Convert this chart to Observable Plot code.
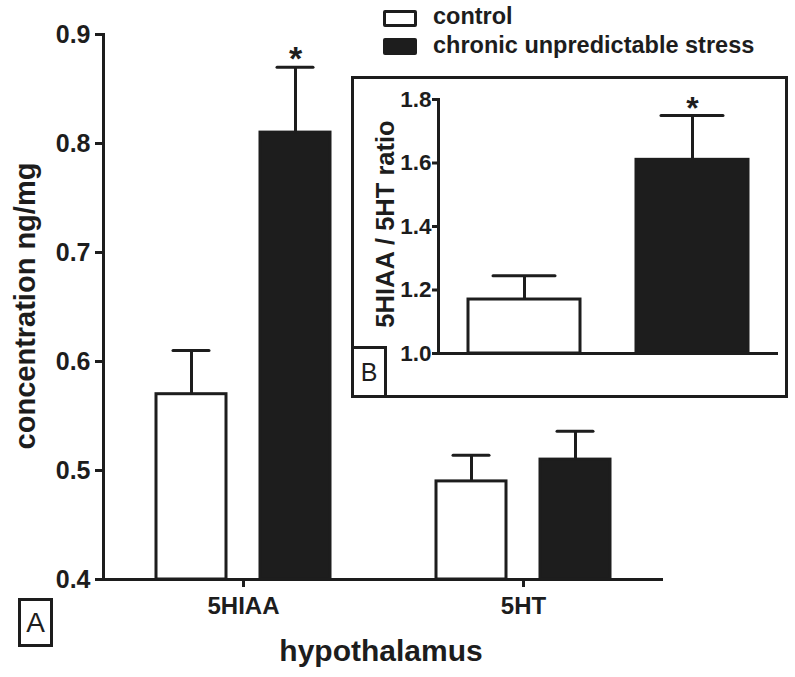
<!DOCTYPE html>
<html>
<head>
<meta charset="utf-8">
<script src="https://cdn.jsdelivr.net/npm/d3@7"></script>
<script src="https://cdn.jsdelivr.net/npm/@observablehq/plot@0.6"></script>
<style>
  html, body { margin: 0; padding: 0; background: #fff; }
  body { width: 795px; height: 677px; position: relative; overflow: hidden;
         font-family: "Liberation Sans", Arial, sans-serif; color: #1d1d1d; }
  .abs { position: absolute; }
  .bold { font-weight: bold; }
  svg { overflow: visible; }
</style>
</head>
<body>
<div id="main" class="abs" style="left:0;top:0;"></div>
<div id="inset" class="abs" style="left:352px;top:77px;"></div>
<div class="abs" style="left:351px;top:76px;width:437px;height:322px;border:3px solid #1d1d1d;box-sizing:border-box;"></div>
<div class="abs" style="left:351px;top:346px;width:36px;height:52px;border:3px solid #1d1d1d;box-sizing:border-box;font-size:25px;line-height:46px;text-align:center;">B</div>
<div class="abs" style="left:18px;top:598px;width:35px;height:49px;border:3px solid #1d1d1d;box-sizing:border-box;font-size:28px;line-height:43px;text-align:center;">A</div>

<!-- legend -->
<div class="abs" style="left:383px;top:10px;width:34px;height:17px;border:3px solid #1d1d1d;box-sizing:border-box;border-radius:2px;"></div>
<div class="abs" style="left:383px;top:38px;width:34px;height:17px;background:#1d1d1d;border-radius:2px;"></div>
<div id="legText1" class="abs bold" style="left:433px;top:3px;font-size:23.5px;line-height:27px;"></div>
<div id="legText2" class="abs bold" style="left:433px;top:32px;font-size:23.5px;line-height:27px;"></div>

<!-- axis titles -->
<div class="abs bold" style="left:25px;top:306px;font-size:29px;white-space:nowrap;transform:translate(-50%,-50%) rotate(-90deg);">concentration ng/mg</div>
<div class="abs bold" style="left:385px;top:224px;font-size:25.5px;white-space:nowrap;transform:translate(-50%,-50%) rotate(-90deg);">5HIAA / 5HT ratio</div>
<div class="abs bold" style="left:381px;top:651px;font-size:30px;white-space:nowrap;transform:translate(-50%,-50%);">hypothalamus</div>

<script>
// ---- data (panel A) ----
const regionOrder = ["5HIAA", "5HT"];
const groupOrder = ["control", "chronic unpredictable stress"];
const regions = ["5HIAA", "5HIAA", "5HT", "5HT"];
const groups = ["control", "chronic unpredictable stress", "control", "chronic unpredictable stress"];
const means = [0.57, 0.81, 0.49, 0.51];
const sems = [0.04, 0.06, 0.024, 0.026];
const significant = [false, true, false, false];
const yTicksA = [0.4, 0.5, 0.6, 0.7, 0.8, 0.9];

// ---- data (panel B) ----
const ratioGroups = ["control", "chronic unpredictable stress"];
const ratioMeans = [1.17, 1.61];
const ratioSems = [0.075, 0.14];
const ratioSignificant = [false, true];
const yTicksB = [1.0, 1.2, 1.4, 1.6, 1.8];

const ink = "#1d1d1d";
const font = "'Liberation Sans', Arial, sans-serif";

document.getElementById("legText1").textContent = groupOrder[0];
document.getElementById("legText2").textContent = groupOrder[1];

const dataA = regions.map((r, i) => ({region: r, group: groups[i], mean: means[i], top: means[i] + sems[i], sig: significant[i]}));
const dataB = ratioGroups.map((g, i) => ({group: g, mean: ratioMeans[i], top: ratioMeans[i] + ratioSems[i], sig: ratioSignificant[i]}));

const colorScale = {domain: groupOrder, range: ["#ffffff", ink]};

const plotA = Plot.plot({
  width: 795, height: 677,
  marginLeft: 102, marginRight: 132, marginTop: 34, marginBottom: 98,
  style: {fontFamily: font, fontWeight: "bold", color: ink, background: "transparent"},
  fx: {domain: regionOrder, padding: 0, label: null},
  x: {domain: groupOrder, paddingInner: 0.33, paddingOuter: 0.507, axis: null},
  y: {domain: [yTicksA[0], yTicksA[yTicksA.length - 1]], axis: null},
  color: colorScale,
  marks: [
    Plot.barY(dataA, {fx: "region", x: "group", y1: () => yTicksA[0], y2: "mean", fill: "group", stroke: ink, strokeWidth: 3}),
    Plot.ruleX(dataA, {fx: "region", x: "group", y1: "mean", y2: "top", stroke: ink, strokeWidth: 3}),
    Plot.tickY(dataA, {fx: "region", x: "group", y: "top", stroke: ink, strokeWidth: 3, insetLeft: 17, insetRight: 17, strokeLinecap: "round"}),
    Plot.text(dataA.filter(d => d.sig), {fx: "region", x: "group", y: "top", text: () => "*", fontSize: 34, dy: -8, fill: ink}),
    Plot.ruleY([yTicksA[0]], {stroke: ink, strokeWidth: 3}),
    Plot.frame({anchor: "left", facetAnchor: "left", stroke: ink, strokeWidth: 3}),
    Plot.axisY({ticks: yTicksA, tickFormat: d => d.toFixed(1), tickSize: 8, tickPadding: 5, fontSize: 25, label: null, strokeWidth: 3, stroke: ink, fill: ink}),
    Plot.axisFx({anchor: "bottom", tickSize: 8, tickPadding: 9, fontSize: 24, label: null, strokeWidth: 3, stroke: ink, fill: ink})
  ]
});
document.getElementById("main").appendChild(plotA);

const plotB = Plot.plot({
  width: 435, height: 320,
  marginLeft: 86, marginRight: 9, marginTop: 22, marginBottom: 44,
  style: {fontFamily: font, fontWeight: "bold", color: ink, background: "transparent"},
  x: {domain: ratioGroups, paddingInner: 0.335, paddingOuter: 0.176, axis: null},
  y: {domain: [yTicksB[0], yTicksB[yTicksB.length - 1]], axis: null},
  color: colorScale,
  marks: [
    Plot.barY(dataB, {x: "group", y1: () => yTicksB[0], y2: "mean", fill: "group", stroke: ink, strokeWidth: 3}),
    Plot.ruleX(dataB, {x: "group", y1: "mean", y2: "top", stroke: ink, strokeWidth: 3}),
    Plot.tickY(dataB, {x: "group", y: "top", stroke: ink, strokeWidth: 3, insetLeft: 25, insetRight: 25, strokeLinecap: "round"}),
    Plot.text(dataB.filter(d => d.sig), {x: "group", y: "top", text: () => "*", fontSize: 32, dy: -7, fill: ink}),
    Plot.ruleY([yTicksB[0]], {stroke: ink, strokeWidth: 3}),
    Plot.frame({anchor: "left", stroke: ink, strokeWidth: 3}),
    Plot.axisY({ticks: yTicksB, tickFormat: d => d.toFixed(1), tickSize: 6, tickPadding: 1, fontSize: 22.5, label: null, strokeWidth: 3, stroke: ink, fill: ink})
  ]
});
document.getElementById("inset").appendChild(plotB);
</script>
</body>
</html>
